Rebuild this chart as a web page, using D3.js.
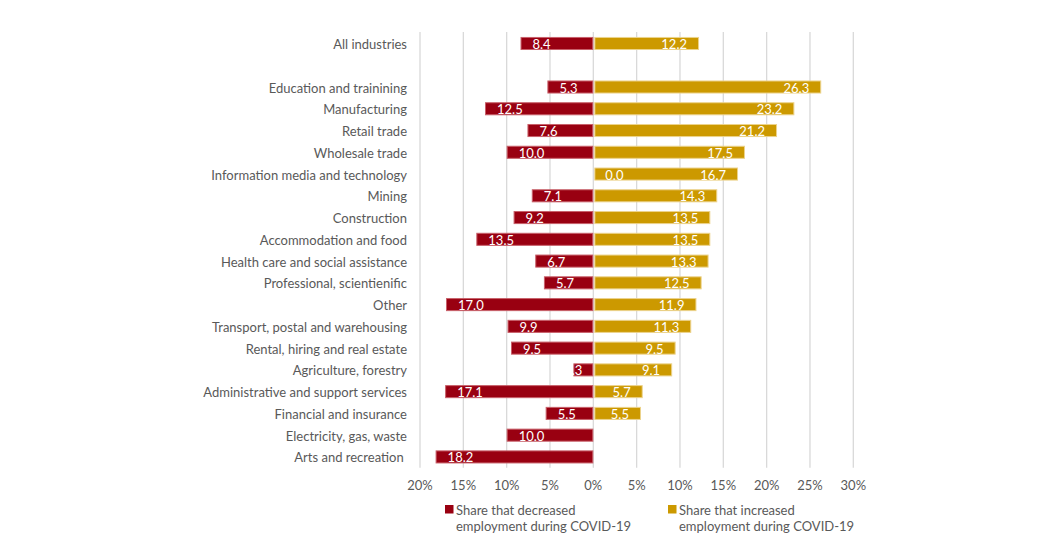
<!DOCTYPE html>
<html>
<head>
<meta charset="utf-8">
<script src="https://cdn.jsdelivr.net/npm/d3@7"></script>
<style>
  html, body { margin: 0; padding: 0; background: #fff; }
  svg text { font-family: Lato, "Open Sans", sans-serif; }
</style>
</head>
<body>
<svg id="chart" width="1052" height="546"></svg>
<script>
// Industries, top to bottom (an empty row separates the total from the rest)
const categories = [
  "All industries",
  "",
  "Education and trainining",
  "Manufacturing",
  "Retail trade",
  "Wholesale trade",
  "Information media and technology",
  "Mining",
  "Construction",
  "Accommodation and food",
  "Health care and social assistance",
  "Professional, scientienific",
  "Other",
  "Transport, postal and warehousing",
  "Rental, hiring and real estate",
  "Agriculture, forestry",
  "Administrative and support services",
  "Financial and insurance",
  "Electricity, gas, waste",
  "Arts and recreation "
];

// Share of businesses (%) that decreased employment during COVID-19
const decreased = [8.4, null, 5.3, 12.5, 7.6, 10.0, 0.0, 7.1, 9.2, 13.5, 6.7, 5.7, 17.0, 9.9, 9.5, 2.3, 17.1, 5.5, 10.0, 18.2];
// Share of businesses (%) that increased employment during COVID-19
const increased = [12.2, null, 26.3, 23.2, 21.2, 17.5, 16.7, 14.3, 13.5, 13.5, 13.3, 12.5, 11.9, 11.3, 9.5, 9.1, 5.7, 5.5, null, null];

const tickValues = [-20, -15, -10, -5, 0, 5, 10, 15, 20, 25, 30];
const legendLabels = [
  ["Share that decreased", "employment during COVID-19"],
  ["Share that increased", "employment during COVID-19"]
];

const RED = "#990011", RED_EDGE = "#c8606a";
const GOLD = "#cc9900", GOLD_EDGE = "#ecd38c";
const TEXT = "#595959";
const FONT = 13;

const svg = d3.select("#chart");
const rowKeys = categories.map((c, i) => i);

const x = d3.scaleLinear().domain([-20, 30]).range([420, 853.3]);
const y = d3.scaleBand().domain(rowKeys).range([32.6, 467.8])
  .paddingInner(0.4).paddingOuter(0.2);

// vertical gridlines
svg.append("g").selectAll("line").data(tickValues).join("line")
  .attr("x1", d => x(d)).attr("x2", d => x(d))
  .attr("y1", 32).attr("y2", 467.8)
  .attr("stroke", "#d9d9d9").attr("stroke-width", 1.3);

// category labels
svg.append("g").selectAll("text").data(rowKeys).join("text")
  .attr("x", 407).attr("y", i => y(i) + y.bandwidth() / 2 + 5.5)
  .attr("text-anchor", "end").attr("fill", TEXT).attr("font-size", FONT)
  .style("white-space", "pre")
  .text(i => categories[i]);

const decRows = rowKeys.filter(i => decreased[i] !== null);
const incRows = rowKeys.filter(i => increased[i] !== null);

// decreased bars extend left of zero
svg.append("g").selectAll("rect").data(decRows).join("rect")
  .attr("x", i => x(-decreased[i]) + 0.5)
  .attr("y", i => y(i) + 0.5)
  .attr("width", i => Math.max(0, x(0) - x(-decreased[i]) - 1))
  .attr("height", y.bandwidth() - 1)
  .attr("fill", RED)
  .attr("stroke", i => decreased[i] > 0 ? RED_EDGE : "none").attr("stroke-width", 1);

// increased bars extend right of zero
svg.append("g").selectAll("rect").data(incRows).join("rect")
  .attr("x", x(0) + 1.5)
  .attr("y", i => y(i) + 0.5)
  .attr("width", i => x(increased[i]) - x(0) - 2)
  .attr("height", y.bandwidth() - 1)
  .attr("fill", GOLD)
  .attr("stroke", GOLD_EDGE).attr("stroke-width", 1);

// value labels near the outer end of each bar;
// a bar too narrow for its label gets the label pinned just left of zero
const fmt = d3.format(".1f");
const decLabels = svg.append("g").selectAll("text").data(decRows).join("text")
  .attr("y", i => y(i) + y.bandwidth() / 2 + 5.5)
  .attr("fill", "#fff").attr("font-size", FONT)
  .text(i => fmt(decreased[i]));
decLabels.each(function(i) {
  const el = d3.select(this);
  const w = this.getComputedTextLength();
  const left = x(-decreased[i]);
  const barW = x(0) - left;
  if (barW > 0 && barW < w + 24) {
    el.attr("x", x(0) - 11).attr("text-anchor", "end");
  } else {
    el.attr("x", left + 12).attr("text-anchor", "start");
  }
});
svg.append("g").selectAll("text").data(incRows).join("text")
  .attr("x", i => x(increased[i]) - 12)
  .attr("y", i => y(i) + y.bandwidth() / 2 + 5.5)
  .attr("text-anchor", "end")
  .attr("fill", "#fff").attr("font-size", FONT)
  .text(i => fmt(increased[i]));

// axis tick labels (absolute percentages)
svg.append("g").selectAll("text").data(tickValues).join("text")
  .attr("x", d => x(d)).attr("y", 490)
  .attr("text-anchor", "middle").attr("fill", TEXT).attr("font-size", FONT)
  .text(d => Math.abs(d) + "%");

// legend
const legendX = [445, 668];
const legendColors = [RED, GOLD];
const lg = svg.append("g").selectAll("g").data(legendLabels).join("g")
  .attr("transform", (d, k) => `translate(${legendX[k]},0)`);
lg.append("rect").attr("x", 0).attr("y", 505).attr("width", 8.5).attr("height", 8.5)
  .attr("fill", (d, k) => legendColors[k]);
lg.append("text").attr("fill", TEXT).attr("font-size", FONT)
  .selectAll("tspan").data(d => d).join("tspan")
  .attr("x", 11).attr("y", (d, j) => 515 + j * 16)
  .text(d => d);
</script>
</body>
</html>
